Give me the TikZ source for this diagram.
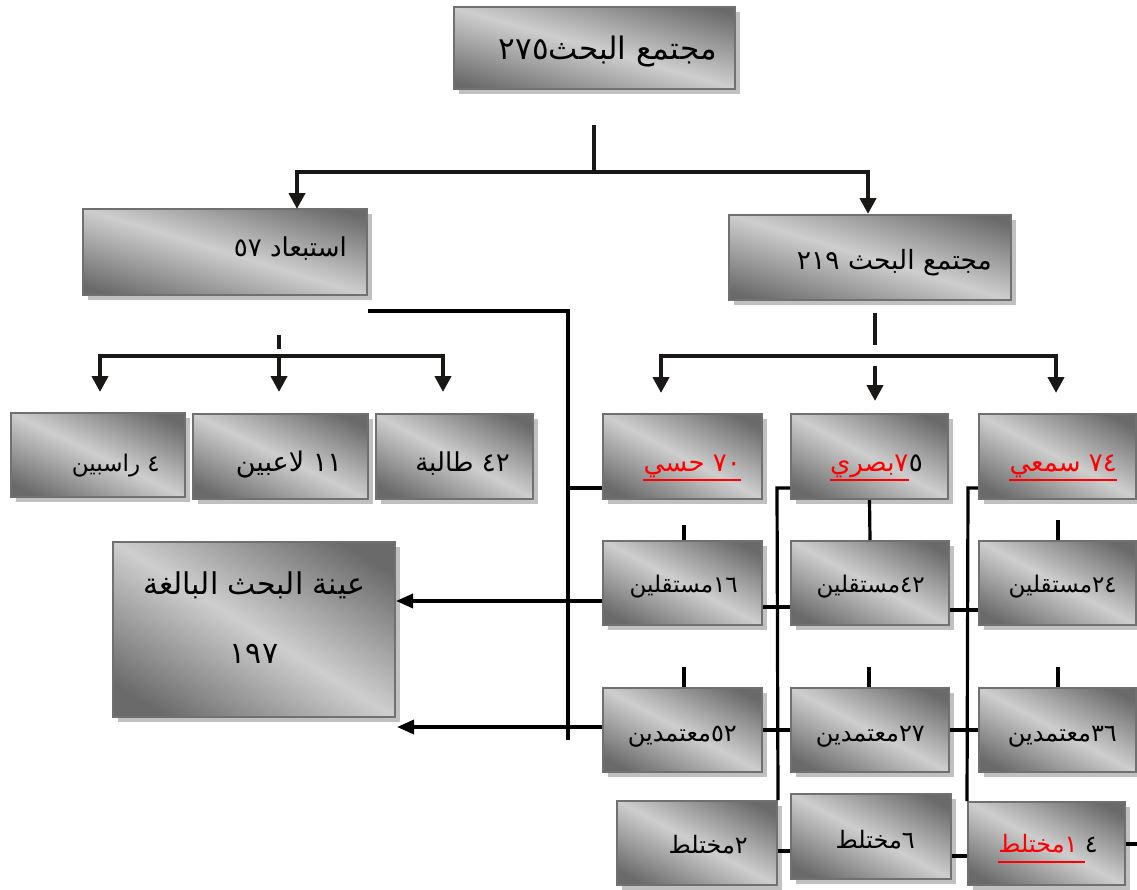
\documentclass[tikz,border=0pt]{standalone}
\usepackage{fontspec}
\usetikzlibrary{arrows.meta,shadows}
\newfontfamily\arabicfont[Script=Arabic]{DejaVu Sans}
\TeXXeTstate=1
\definecolor{bdk}{RGB}{106,106,106}
\definecolor{blt}{RGB}{206,206,206}
\definecolor{bframe}{RGB}{112,112,112}
\definecolor{bshadow}{RGB}{192,192,192}
\definecolor{lnk}{RGB}{26,24,22}
\pgfdeclareverticalshading{boxshade}{100bp}{color(0bp)=(bdk); color(22bp)=(bdk); color(50bp)=(blt); color(78bp)=(bdk); color(100bp)=(bdk)}
\tikzset{
  card/.style={rectangle, draw=bframe, line width=2pt, shading=boxshade, shading angle=#1,
    general shadow={fill=bshadow, shadow xshift=5pt, shadow yshift=-5pt}, inner sep=0pt},
  card/.default=-20,
  txt/.style={font=\arabicfont\fontsize{#1}{#1}\selectfont, inner sep=0pt, anchor=base east},
  txt/.default=25,
  uline/.style={draw=red, line width=1.6pt},
  treearr/.style={draw=lnk, line width=4pt, -{Triangle[width=16pt,length=16pt]}},
  treeline/.style={draw=lnk, line width=4pt},
  link/.style={draw=black, line width=3.2pt},
  arrL/.style={draw=black, line width=3.4pt, -{Triangle[width=14pt,length=17pt]}}
}
\begin{document}
\begin{tikzpicture}[x=1pt,y=-1pt]
\useasboundingbox (0,0) rectangle (1137,889);
% boxes
\node[card=-16, minimum width=281pt, minimum height=82pt] (top) at (594.5,48) {};
\node[card=-17, minimum width=284pt, minimum height=86pt] (excl) at (225,252) {};
\node[card=-17, minimum width=282pt, minimum height=85pt] (pop) at (870,257.5) {};
\node[card=-26, minimum width=174pt, minimum height=84pt] (rasib) at (98,455) {};
\node[card=-26, minimum width=175pt, minimum height=85pt] (laib) at (280.5,456.5) {};
\node[card=-28, minimum width=157pt, minimum height=85pt] (taliba) at (454.5,456.5) {};
\node[card=-28, minimum width=159pt, minimum height=85pt] (hasi) at (682.5,456.5) {};
\node[card=-28, minimum width=157pt, minimum height=85pt] (basri) at (869.5,456.5) {};
\node[card=-28, minimum width=157pt, minimum height=85pt] (samei) at (1057.5,456.5) {};
\node[card=-28, minimum width=159pt, minimum height=84pt] (m16) at (682.5,583) {};
\node[card=-28, minimum width=158pt, minimum height=84pt] (m42) at (870,583) {};
\node[card=-28, minimum width=157pt, minimum height=84pt] (m24) at (1057.5,583) {};
\node[card=-28, minimum width=159pt, minimum height=84pt] (d52) at (682.5,730) {};
\node[card=-28, minimum width=158pt, minimum height=84pt] (d27) at (870,730) {};
\node[card=-28, minimum width=157pt, minimum height=84pt] (d36) at (1057.5,730) {};
\node[card=-28, minimum width=160pt, minimum height=84pt] (x2) at (697,843) {};
\node[card=-28, minimum width=160pt, minimum height=85pt] (x6) at (871,836.5) {};
\node[card=-28, minimum width=157pt, minimum height=83pt] (x14) at (1046.5,843.5) {};
\node[card=-32, minimum width=282pt, minimum height=175pt] (sample) at (254,629.5) {};
% texts
\node[txt=31] (ttop) at (717,59) {\beginR مجتمع البحث٢٧٥\endR};
\node[txt=26] (texcl) at (347,256) {\beginR استبعاد ٥٧\endR};
\node[txt=26.5] (tpop) at (992,269) {\beginR مجتمع البحث ٢١٩\endR};
\node[txt=23] (trasib) at (160,471) {\beginR ٤ راسبين\endR};
\node[txt=27] (tlaib) at (342,471) {\beginR ١١ لاعبين\endR};
\node[txt=26] (ttaliba) at (510,471) {\beginR ٤٢ طالبة\endR};
\node[txt=26, text=red] (thasi) at (741,471) {\beginR ٧٠ حسي\endR};
\node[txt=26] (tbasrin) at (923,471) {٥};
\node[txt=26, text=red] (tbasri) at (tbasrin.base west) {\beginR ٧بصري\endR};
\node[txt=26, text=red] (tsamei) at (1117,471) {\beginR ٧٤ سمعي\endR};
\node[txt=23] (tm16) at (738,592) {\beginR ١٦مستقلين\endR};
\node[txt=23] (tm42) at (925,592) {\beginR ٤٢مستقلين\endR};
\node[txt=23] (tm24) at (1117,592) {\beginR ٢٤مستقلين\endR};
\node[txt=24] (td52) at (737,741) {\beginR ٥٢معتمدين\endR};
\node[txt=24] (td27) at (925,741) {\beginR ٢٧معتمدين\endR};
\node[txt=24] (td36) at (1117,741) {\beginR ٣٦معتمدين\endR};
\node[txt=24] (tx2) at (748,853) {\beginR ٢مختلط\endR};
\node[txt=24] (tx6) at (915,848) {\beginR ٦مختلط\endR};
\node[txt=24] (tx14n) at (1098,852) {٤};
\node[txt=24, text=red] (tx14) at ([xshift=-7pt]tx14n.base west) {\beginR ١مختلط\endR};
\node[txt=30, anchor=base] (ts1) at (254,594) {\beginR عينة البحث البالغة\endR};
\node[txt=30, anchor=base] (ts2) at (254,663) {١٩٧};
% underlines
\draw[uline] ([yshift=-9pt]thasi.base west) -- ([yshift=-9pt]thasi.base east);
\draw[uline] ([yshift=-9pt]tbasri.base west) -- ([yshift=-9pt]tbasri.base east);
\draw[uline] ([yshift=-9pt]tsamei.base west) -- ([yshift=-9pt]tsamei.base east);
\draw[uline] ([yshift=-10pt]tx14.base west) -- ([yshift=-10pt,xshift=7pt]tx14.base east);
% tree from top
\coordinate (s0) at (594,125);
\coordinate (j1) at (594,172);
\coordinate (a1) at (297,209);
\coordinate (a2) at (868,214);
\draw[treeline] (s0) -- (j1);
\draw[treearr] (j1) -| (a1);
\draw[treearr] (j1) -| (a2);
% tree from pop
\coordinate (p0) at (875,313);
\coordinate (p1) at (875,345);
\coordinate (j2) at (875,356);
\coordinate (a3) at (661,393);
\coordinate (a4) at (1056,393);
\coordinate (m0) at (875,366);
\coordinate (a5) at (875,401);
\draw[treeline] (p0) -- (p1);
\draw[treearr] (j2) -| (a3);
\draw[treearr] (j2) -| (a4);
\draw[treearr] (m0) -- (a5);
% tree from excl
\coordinate (q0) at (279,335);
\coordinate (q1) at (279,349);
\coordinate (j3) at (279,356);
\coordinate (a6) at (100,392);
\coordinate (a7) at (443,392);
\coordinate (a8) at (279,392);
\draw[treeline] (q0) -- (q1);
\draw[treearr] (j3) -| (a6);
\draw[treearr] (j3) -| (a7);
\draw[treearr] (j3) -- (a8);
% left long line
\coordinate (e1) at (568,311);
\coordinate (e2) at (568,740);
\coordinate (e3) at (568,488);
\draw[link, line join=miter] (excl.east |- e1) -- (e1) -- (e2);
\draw[link] (e3) -- (e3 -| hasi.west);
% arrows to sample
\coordinate (r1) at (568,601);
\coordinate (r2) at (568,727);
\coordinate (r2t) at (397,727);
\draw[arrL] (m16.west |- r1) -- (sample.east |- r1);
\draw[arrL] (d52.west |- r2) -- (r2t);
% vertical spines
\coordinate (v1) at (777,488);
\coordinate (v2) at (968,488);
\draw[link, line join=miter] (v1 -| basri.west) -- (v1) -- (x2.north east);
\draw[link, line join=miter] (v2 -| samei.west) -- (v2) -- (x14.north west);
% horizontal links between columns
\coordinate (h1) at (777,607);
\coordinate (h2) at (968,610);
\coordinate (h3) at (777,730);
\coordinate (h4) at (968,730);
\coordinate (h5) at (777,851);
\coordinate (h6) at (968,856);
\coordinate (h7) at (1137,844);
\draw[link] (m16.east |- h1) -- (m42.west |- h1);
\draw[link] (m42.east |- h2) -- (m24.west |- h2);
\draw[link] (d52.east |- h3) -- (d27.west |- h3);
\draw[link] (d27.east |- h4) -- (d36.west |- h4);
\draw[link] (x2.east |- h5) -- (x6.west |- h5);
\draw[link] (x6.east |- h6) -- (x14.west |- h6);
\draw[link] (x14.east |- h7) -- (h7);
% ticks
\coordinate (k1) at (684,525);
\coordinate (k3) at (1058,520);
\coordinate (k4) at (684,667);
\coordinate (k5) at (869,667);
\coordinate (k6) at (1058,667);
\draw[link] (k1) -- (k1 |- m16.north);
\draw[link] (basri.south) -- (m42.north);
\draw[link] (k3) -- (k3 |- m24.north);
\draw[link] (k4) -- (k4 |- d52.north);
\draw[link] (k5) -- (k5 |- d27.north);
\draw[link] (k6) -- (k6 |- d36.north);
\end{tikzpicture}
\end{document}
